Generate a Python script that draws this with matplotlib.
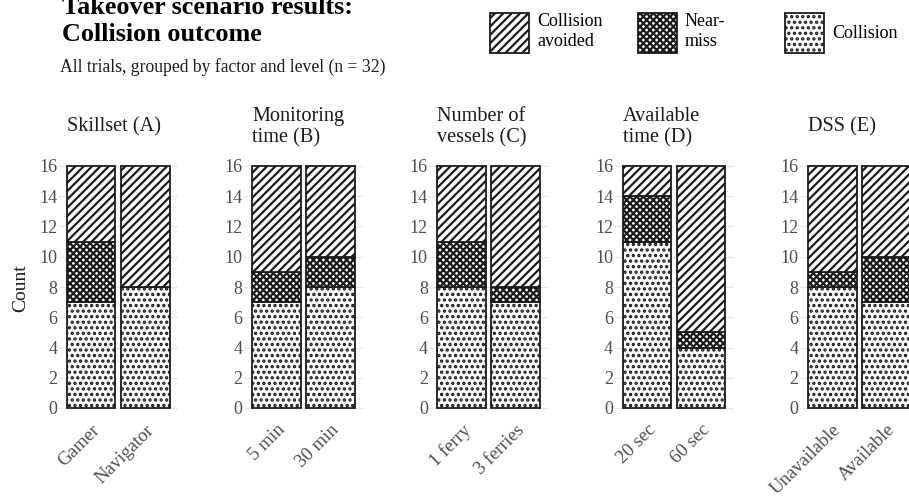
import matplotlib as mpl
mpl.use('Agg')
import matplotlib.pyplot as plt
from matplotlib.patches import Patch
import numpy as np

# counts per factor level, stacked bottom -> top: collision, near-miss, avoided
factors = ['Skillset (A)', 'Monitoring\ntime (B)', 'Number of\nvessels (C)',
           'Available\ntime (D)', 'DSS (E)']
levels = [['Gamer', 'Navigator'],
          ['5 min', '30 min'],
          ['1 ferry', '3 ferries'],
          ['20 sec', '60 sec'],
          ['Unavailable', 'Available']]
collision = [[7, 8], [7, 8], [8, 7], [11, 4], [8, 7]]
near_miss = [[4, 0], [2, 2], [3, 1], [3, 1], [1, 3]]
avoided = [[5, 8], [7, 6], [5, 8], [2, 11], [7, 6]]

outcomes = ['Collision avoided', 'Near-miss', 'Collision']
legend_labels = ['Collision\navoided', 'Near-\nmiss', 'Collision']
hatches = {'Collision avoided': '////', 'Near-miss': 'xxxxx', 'Collision': '...'}

plt.rcParams['font.family'] = ['Liberation Serif', 'DejaVu Serif']
plt.rcParams['hatch.color'] = '#222222'
plt.rcParams['hatch.linewidth'] = 1.6

W, H = 909, 499
fig = plt.figure(figsize=(W / 100, H / 100), dpi=100)

grey = '#4d4d4d'
unit = 54.1          # px per category step
ax_w = 2.2 * unit
ax_h = 17.6 * 15.125
ax_bottom = H - 420.1

for i, name in enumerate(factors):
    left = 58.6 + i * 185.3
    ax = fig.add_axes([left / W, ax_bottom / H, ax_w / W, ax_h / H])
    x = np.arange(1, 3)
    c = np.array(collision[i])
    n = np.array(near_miss[i])
    a = np.array(avoided[i])
    kw = dict(width=0.9, color='white', edgecolor='#1a1a1a', linewidth=1.3, zorder=3)
    ax.bar(x, c, hatch=hatches['Collision'], **kw)
    ax.bar(x, n, bottom=c, hatch=hatches['Near-miss'], **kw)
    ax.bar(x, a, bottom=c + n, hatch=hatches['Collision avoided'], **kw)

    ax.set_xlim(0.4, 2.6)
    ax.set_ylim(-0.8, 16.8)
    ax.set_yticks(np.arange(0, 17, 2))
    ax.set_xticks(x)
    ax.set_xticklabels(levels[i], rotation=45, ha='right', rotation_mode='anchor')
    ax.tick_params(axis='both', length=0, colors=grey, labelsize=13.5)
    ax.tick_params(axis='y', labelsize=13, pad=1)
    ax.tick_params(axis='x', pad=1)
    ax.grid(axis='y', color='#e6e6e6', linewidth=0.8, zorder=0)
    ax.set_axisbelow(True)
    for s in ax.spines.values():
        s.set_visible(False)
    ax.text(0.15 / 2.2, 1.1, name, transform=ax.transAxes, ha='left',
            va='center', fontsize=14.6, linespacing=1.22, color='#1a1a1a')

fig.text(21 / W, 1 - 288 / H, 'Count', rotation=90, ha='center', va='center',
         fontsize=14, color='#1a1a1a')

fig.text(62 / W, 1 - 14 / H, 'Takeover scenario results:', fontsize=18.8,
         fontweight='bold', ha='left', va='baseline')
fig.text(62 / W, 1 - 41 / H, 'Collision outcome', fontsize=18.8,
         fontweight='bold', ha='left', va='baseline')
fig.text(60 / W, 1 - 67 / H, 'All trials, grouped by factor and level (n = 32)',
         fontsize=12.7, ha='left', va='center', color='#1a1a1a')

# legend: three keys on a fixed pitch
for j, (out, lab) in enumerate(zip(outcomes, legend_labels)):
    h = Patch(facecolor='white', edgecolor='#1a1a1a', linewidth=1.3,
              hatch=hatches[out])
    fig.legend([h], [lab], loc='center left',
               bbox_to_anchor=((490 + j * 147.5) / W, 1 - 33 / H),
               frameon=False, fontsize=13, handlelength=2.17, handleheight=2.96,
               handletextpad=0.45, borderpad=0, borderaxespad=0,
               labelspacing=0)

fig.savefig('out.png', dpi=100)
